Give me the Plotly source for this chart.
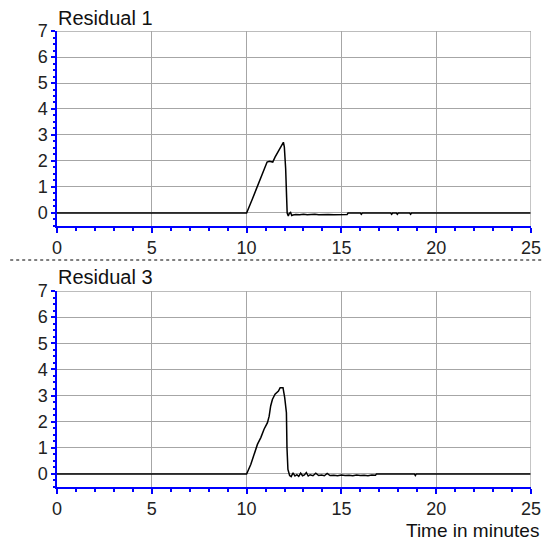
import plotly.graph_objects as go

# Residual 1 (time in minutes, value)
res1_t = [0, 10.0, 10.31, 10.66, 10.92, 11.08, 11.2, 11.27, 11.38, 11.5, 11.71, 11.89, 11.94,
          11.99, 12.06, 12.11, 12.14, 12.2, 12.25, 12.32, 12.38, 12.44, 12.6, 12.8, 13.0, 13.2,
          13.4, 13.6, 13.8, 14.0, 14.3, 14.6, 14.9, 15.3, 15.35, 16.0, 16.05, 16.1, 17.6, 17.65,
          17.7, 17.9, 17.95, 18.0, 18.6, 18.65, 18.7, 25]
res1_v = [0, 0, 0.55, 1.19, 1.70, 1.96, 1.99, 1.98, 1.96, 2.15, 2.41, 2.66, 2.72,
          2.54, 1.70, 0.61, 0.0, -0.12, -0.02, 0.02, -0.10, -0.08, -0.06, -0.07, -0.05, -0.07,
          -0.06, -0.05, -0.07, -0.06, -0.06, -0.07, -0.06, -0.06, 0, 0, -0.05, 0, 0, -0.05,
          0, 0, -0.05, 0, 0, -0.05, 0, 0]

# Residual 3 (time in minutes, value)
res3_t = [0, 10.0, 10.22, 10.4, 10.57, 10.75, 10.92, 11.1, 11.19, 11.27, 11.36, 11.5, 11.68,
          11.77, 11.92, 12.01, 12.1, 12.13, 12.18, 12.27, 12.35, 12.45, 12.55, 12.65, 12.75,
          12.85, 12.95, 13.05, 13.15, 13.25, 13.35, 13.5, 13.65, 13.8, 13.95, 14.1, 14.25,
          14.4, 14.6, 14.8, 15.0, 15.2, 15.4, 15.6, 15.8, 16.0, 16.2, 16.4, 16.6, 16.8,
          16.85, 18.85, 18.9, 18.95, 25]
res3_v = [0, 0, 0.36, 0.75, 1.13, 1.39, 1.71, 1.96, 2.21, 2.60, 2.85, 3.05, 3.17,
          3.30, 3.30, 2.92, 2.34, 1.00, 0.17, -0.06, -0.10, 0.04, -0.08, -0.03, -0.09,
          0.03, -0.07, -0.04, 0.05, -0.08, -0.03, -0.07, 0.03, -0.06, -0.04, -0.07, 0.02,
          -0.06, -0.05, -0.07, -0.04, -0.06, -0.05, -0.07, -0.04, -0.06, -0.05, -0.07, -0.04, -0.05,
          0, 0, -0.06, 0, 0]

x_ticks = [0, 5, 10, 15, 20, 25]
y_ticks = [0, 1, 2, 3, 4, 5, 6, 7]
titles = ["Residual 1", "Residual 3"]
x_title = "Time in minutes"

FONT = "Liberation Sans, Arial, sans-serif"
BLUE = "#0000ff"
GRID = "#a6a6a6"

fig = go.Figure()
fig.add_trace(go.Scatter(x=res1_t, y=res1_v, mode="lines", xaxis="x", yaxis="y",
                         line=dict(color="black", width=1.5), showlegend=False))
fig.add_trace(go.Scatter(x=res3_t, y=res3_v, mode="lines", xaxis="x2", yaxis="y2",
                         line=dict(color="black", width=1.5), showlegend=False))

xcommon = dict(range=[0, 25], tickvals=x_ticks, showline=True, linecolor=BLUE, linewidth=1.5,
               ticks="outside", tickcolor=BLUE, ticklen=5, tickwidth=1.5,
               minor=dict(dtick=1, ticks="outside", ticklen=3, tickcolor=BLUE, showgrid=False),
               showgrid=True, gridcolor=GRID, gridwidth=1.3, zeroline=False,
               tickfont=dict(family=FONT, size=18, color="#222"))
ycommon = dict(range=[-0.5, 7], tickvals=y_ticks, showline=True, linecolor=BLUE, linewidth=1.5,
               ticks="outside", tickcolor=BLUE, ticklen=4, tickwidth=1.5,
               minor=dict(dtick=0.25, ticks="outside", ticklen=2, tickcolor=BLUE, showgrid=False),
               showgrid=True, gridcolor=GRID, gridwidth=1.3, zeroline=False,
               tickfont=dict(family=FONT, size=18, color="#222"))

# page body has an 8px margin, so the figure is sized/offset to compensate
fig.update_layout(
    width=545, height=534,
    margin=dict(l=49, r=20, t=23, b=55),
    paper_bgcolor="white", plot_bgcolor="white",
    xaxis=dict(xcommon, anchor="y"),
    yaxis=dict(ycommon, domain=[0.5724, 1.0], anchor="x"),
    xaxis2=dict(xcommon, anchor="y2"),
    yaxis2=dict(ycommon, domain=[0.0, 0.4298], anchor="x2"),
)

shapes = []
for xa, ya in [("x", "y"), ("x2", "y2")]:
    shapes.append(dict(type="line", xref=xa, yref=ya, x0=0, x1=25, y0=7, y1=7,
                       line=dict(color=GRID, width=1.3)))
    shapes.append(dict(type="line", xref=xa, yref=ya, x0=25, x1=25, y0=-0.5, y1=7,
                       line=dict(color=GRID, width=1.3)))
shapes.append(dict(type="line", xref="paper", yref="paper", x0=-0.0987, x1=1.025,
                   y0=(487 - 260) / 456, y1=(487 - 260) / 456,
                   line=dict(color="black", width=1, dash="dot")))
fig.update_layout(shapes=shapes)

fig.add_annotation(text=titles[0], xref="paper", yref="paper", x=-0.002, y=1.028,
                   xanchor="left", yanchor="middle", showarrow=False,
                   font=dict(family=FONT, size=20, color="#111"))
fig.add_annotation(text=titles[1], xref="paper", yref="paper", x=-0.002, y=0.4605,
                   xanchor="left", yanchor="middle", showarrow=False,
                   font=dict(family=FONT, size=20, color="#111"))
fig.add_annotation(text=x_title, xref="paper", yref="paper", x=1.021, y=-0.0943,
                   xanchor="right", yanchor="middle", showarrow=False,
                   font=dict(family=FONT, size=19, color="#111"))

fig.write_html("out.html")
